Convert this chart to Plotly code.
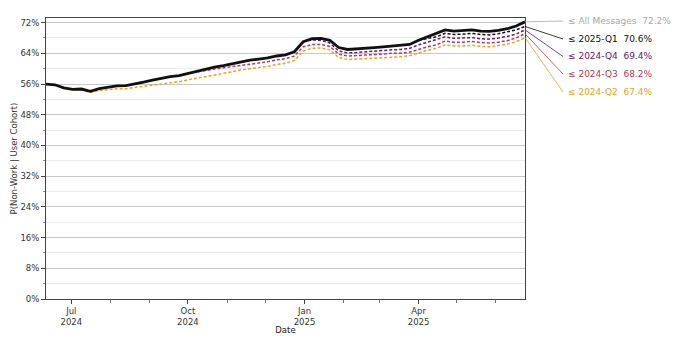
import plotly.graph_objects as go

# Weekly sample dates
dates = ["2024-06-11", "2024-06-18", "2024-06-25", "2024-07-02", "2024-07-09", "2024-07-16",
         "2024-07-23", "2024-07-30", "2024-08-06", "2024-08-13", "2024-08-20", "2024-08-27",
         "2024-09-03", "2024-09-10", "2024-09-17", "2024-09-24", "2024-10-01", "2024-10-08",
         "2024-10-15", "2024-10-22", "2024-10-29", "2024-11-05", "2024-11-12", "2024-11-19",
         "2024-11-26", "2024-12-03", "2024-12-10", "2024-12-17", "2024-12-24", "2024-12-31",
         "2025-01-07", "2025-01-14", "2025-01-21", "2025-01-28", "2025-02-04", "2025-02-11",
         "2025-02-18", "2025-02-25", "2025-03-04", "2025-03-11", "2025-03-18", "2025-03-25",
         "2025-04-01", "2025-04-08", "2025-04-15", "2025-04-22", "2025-04-29", "2025-05-06",
         "2025-05-13", "2025-05-20", "2025-05-27", "2025-06-03", "2025-06-10", "2025-06-17",
         "2025-06-24"]

all_messages = [56.0, 55.8, 55.0, 54.6, 54.7, 54.1, 54.8, 55.1, 55.5, 55.6, 56.0, 56.5,
                57.0, 57.5, 57.9, 58.2, 58.8, 59.3, 59.9, 60.4, 60.8, 61.3, 61.8, 62.2,
                62.5, 62.8, 63.3, 63.6, 64.4, 67.0, 67.8, 67.9, 67.4, 65.5, 65.0, 65.1,
                65.3, 65.5, 65.7, 65.9, 66.0, 66.3, 67.4, 68.3, 69.0, 70.1, 69.8, 69.9,
                70.1, 69.8, 69.7, 70.0, 70.4, 71.1, 72.2]

# cohorts (values start where the cohort first diverges; aligned to the end of `dates`)
q2_2024 = [56.0, 55.8, 55.0, 54.6, 54.5, 53.8, 54.3, 54.5, 54.8, 54.8, 55.1, 55.5,
           55.8, 56.1, 56.4, 56.6, 57.1, 57.5, 58.0, 58.4, 58.8, 59.2, 59.7, 60.1,
           60.3, 60.6, 61.1, 61.4, 62.1, 64.6, 65.3, 65.4, 64.9, 62.9, 62.4, 62.5,
           62.6, 62.8, 62.9, 63.1, 63.1, 63.4, 64.2, 64.8, 65.3, 66.2, 65.9, 65.9,
           66.1, 65.8, 65.7, 66.0, 66.4, 67.0, 68.1]
q3_2024 = [58.8, 59.1, 59.5, 59.9, 60.2, 60.6, 61.0, 61.3, 61.6, 61.8, 62.3, 62.6,
           63.3, 65.7, 66.3, 66.3, 65.8, 63.8, 63.3, 63.4, 63.5, 63.7, 63.8, 64.0,
           64.0, 64.3, 65.1, 65.7, 66.2, 67.2, 66.9, 66.9, 67.1, 66.8, 66.7, 66.9,
           67.3, 68.0, 69.1]
q4_2024 = [67.0, 67.5, 67.4, 66.7, 64.6, 64.1, 64.2, 64.4, 64.5, 64.7, 64.9, 65.0,
           65.3, 66.2, 66.9, 67.4, 68.3, 67.9, 68.0, 68.1, 67.8, 67.7, 68.0, 68.4,
           69.0, 70.1]
q1_2025 = [67.4, 67.9, 68.3, 69.2, 68.9, 69.0, 69.2, 68.9, 68.8, 69.1, 69.5, 70.1, 71.0]

series_names = ["≤ All Messages", "≤ 2025-Q1", "≤ 2024-Q4", "≤ 2024-Q3", "≤ 2024-Q2"]
label_values = ["72.2%", "70.6%", "69.4%", "68.2%", "67.4%"]

x_tickvals = ["2024-07-01", "2024-10-01", "2025-01-01", "2025-04-01"]
x_ticktext = ["Jul<br>2024", "Oct<br>2024", "Jan<br>2025", "Apr<br>2025"]
y_tickvals = [0, 8, 16, 24, 32, 40, 48, 56, 64, 72]
y_ticktext = [f"{v}%" for v in y_tickvals]

colors = {"all": "#111111", "q1": "#111111", "q4": "#6a176e", "q3": "#bc3754", "q2": "#f5a020"}
label_colors = ["#aaaaaa", "#111111", "#6a176e", "#bc3754", "#f0a020"]

YMAX = 73.2
FONT = "DejaVu Sans"

# page body has an 8px margin; figure is sized so it fits the 690x343 window
W, H = 674, 327
OFF = 8
ML, MR, MT, MB = 46 - OFF, W - (525 - OFF), 18 - OFF, H - (299 - OFF)
plot_w = W - ML - MR
plot_h = H - MT - MB

fig = go.Figure()
cohorts = [(q2_2024, "q2", series_names[4]), (q3_2024, "q3", series_names[3]),
           (q4_2024, "q4", series_names[2]), (q1_2025, "q1", series_names[1])]
for vals, key, name in cohorts:
    fig.add_trace(go.Scatter(x=dates[len(dates) - len(vals):], y=vals, mode="lines", name=name,
                             line=dict(color=colors[key], width=1.5, dash="3px,2px")))
fig.add_trace(go.Scatter(x=dates, y=all_messages, mode="lines", name=series_names[0],
                         line=dict(color=colors["all"], width=2.8)))

# right-side labels with connector lines
end_vals = [all_messages[-1], q1_2025[-1], q4_2024[-1], q3_2024[-1], q2_2024[-1]]
label_py = [21, 39, 56.5, 74, 92]  # pixel rows of labels in the window
x_line_end = (563 - 46) / plot_w
x_text = (566 - 46) / plot_w
for name, val, ev, py, c in zip(series_names, label_values, end_vals, label_py, label_colors):
    ypaper = (299 - py) / plot_h
    fig.add_shape(type="line", xref="paper", yref="paper", x0=1.0, x1=x_line_end,
                  y0=ev / YMAX, y1=ypaper, line=dict(color=c, width=0.8))
    fig.add_annotation(xref="paper", yref="paper", x=x_text, y=ypaper, xanchor="left",
                       yanchor="middle", showarrow=False,
                       text=f"{name}\u00a0\u00a0{val}", font=dict(family=FONT, size=9, color=c))

fig.update_layout(
    width=W, height=H,
    margin=dict(l=ML, r=MR, t=MT, b=MB, autoexpand=False),
    paper_bgcolor="white", plot_bgcolor="white",
    showlegend=False,
    font=dict(family=FONT, size=8, color="#333333"),
    xaxis=dict(
        range=["2024-06-11", "2025-06-24"], type="date",
        tickmode="array", tickvals=x_tickvals, ticktext=x_ticktext,
        ticks="outside", ticklen=4, tickcolor="#444", tickfont=dict(size=8.5, color="#333"),
        showgrid=False, showline=True, linecolor="#444", linewidth=1, mirror=True,
        zeroline=False,
        minor=dict(ticks="outside", dtick="M1", tick0="2024-07-01", ticklen=3, tickcolor="#777", showgrid=False),
        title=dict(text="Date", font=dict(size=8.5, color="#222"), standoff=0),
    ),
    yaxis=dict(
        range=[0, YMAX],
        tickmode="array", tickvals=y_tickvals, ticktext=y_ticktext,
        ticks="outside", ticklen=4, tickcolor="#444", tickfont=dict(size=8.5, color="#333"),
        showgrid=True, gridcolor="#c8c8c8", gridwidth=1,
        showline=True, linecolor="#444", linewidth=1, mirror=True, zeroline=False,
        minor=dict(ticks="outside", dtick=4, tick0=0, ticklen=2, tickcolor="#888",
                   showgrid=True, gridcolor="#ececec", gridwidth=1),
        title=dict(text="P(Non-Work | User Cohort)", font=dict(size=8.5, color="#333"), standoff=1),
    ),
)

fig.write_html("out.html")
